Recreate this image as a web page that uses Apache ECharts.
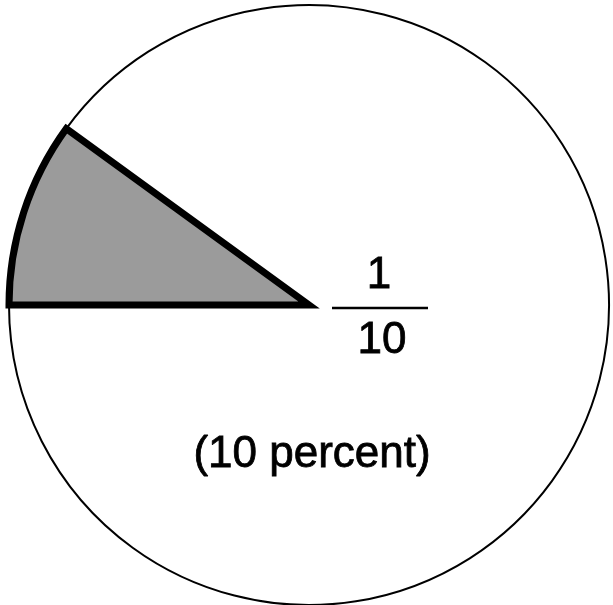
<!DOCTYPE html>
<html>
<head>
<meta charset="utf-8">
<script src="https://cdn.jsdelivr.net/npm/echarts@6/dist/echarts.min.js"></script>
<style>
    html, body { margin: 0; padding: 0; background: #fff; }
    #main { width: 613px; height: 605px; }
</style>
</head>
<body>
<div id="main"></div>
<script>
// data
var sliceNames = ['Shaded part', 'Rest'];
var sliceValues = [10, 90];
var fractionNumerator = '1';
var fractionDenominator = '10';
var percentLabel = '(10 percent)';

(function () {
    var myChart = echarts.init(document.getElementById('main'));
    var font = '44px "Liberation Sans", Arial, sans-serif';
    // scanned type looks a little heavier, so give it a thin outline
    var textStyle = function (txt) {
        return { text: txt, font: font, fill: '#000', stroke: '#000', lineWidth: 0.8, align: 'center', verticalAlign: 'middle' };
    };

    var pieBase = {
        type: 'pie',
        silent: true,
        center: [309, 305],
        radius: 300,
        startAngle: 180,
        clockwise: true,
        label: { show: false },
        labelLine: { show: false },
        emphasis: { disabled: true }
    };

    var option = {
        backgroundColor: '#fff',
        animation: false,
        series: [
            // thin outline of the whole circle
            echarts.util.merge({
                z: 2,
                data: [
                    { name: sliceNames[0], value: sliceValues[0], itemStyle: { color: '#fff', borderColor: '#000', borderWidth: 2 } },
                    { name: sliceNames[1], value: sliceValues[1], itemStyle: { color: '#fff', borderColor: '#000', borderWidth: 2 } }
                ]
            }, pieBase),
            // shaded wedge on top, with heavy outline
            echarts.util.merge({
                z: 3,
                data: [
                    { name: sliceNames[0], value: sliceValues[0], itemStyle: { color: '#9b9b9b', borderColor: '#000', borderWidth: 7, borderJoin: 'miter' } },
                    { name: sliceNames[1], value: sliceValues[1], itemStyle: { color: 'rgba(0,0,0,0)', borderWidth: 0 } }
                ]
            }, pieBase)
        ],
        graphic: [
            { type: 'text', x: 379, y: 276, z: 100, style: textStyle(fractionNumerator) },
            {
                type: 'line', z: 100,
                shape: { x1: 332, y1: 308, x2: 428, y2: 308 },
                style: { stroke: '#000', lineWidth: 2.5 }
            },
            { type: 'text', x: 382, y: 341, z: 100, style: textStyle(fractionDenominator) },
            { type: 'text', x: 312, y: 455, z: 100, style: textStyle(percentLabel) }
        ]
    };

    myChart.setOption(option);
})();
</script>
</body>
</html>
